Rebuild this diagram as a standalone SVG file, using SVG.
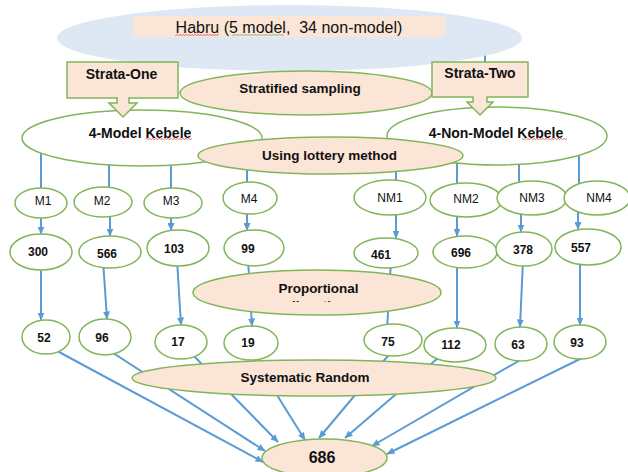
<svg xmlns="http://www.w3.org/2000/svg" width="628" height="472" viewBox="0 0 628 472">
<style>
.n{fill:#ffffff;stroke:#82b55a;stroke-width:1.5}
.p{fill:#fbe5d6;stroke:#82b55a;stroke-width:1.5}
.c{stroke:#5b9bd5;stroke-width:2;fill:none}
.a{marker-end:url(#ah)}
.t{font-family:"Liberation Sans",Arial,sans-serif;text-anchor:middle;fill:#111111}
.b{font-weight:bold;font-size:13.5px}
.k{font-weight:bold;font-size:14px}
.s{font-size:12px}
.nb{font-weight:bold;font-size:12px}
.wr{fill:url(#wavyR)}
.wg{fill:url(#wavyG)}
</style>
<defs>
<marker id="ah" viewBox="0 0 8 7" refX="7.5" refY="3.5" markerWidth="8" markerHeight="7" markerUnits="userSpaceOnUse" orient="auto">
<path d="M0,0 L8,3.5 L0,7 Z" fill="#5b9bd5"/>
</marker>
<pattern id="wavyR" width="3" height="2" patternUnits="userSpaceOnUse">
<path d="M0,0.4 L1.5,1.6 L3,0.4" fill="none" stroke="#e0302c" stroke-width="0.7"/>
</pattern>
<pattern id="wavyG" width="3" height="2" patternUnits="userSpaceOnUse">
<path d="M0,0.4 L1.5,1.6 L3,0.4" fill="none" stroke="#4aa05a" stroke-width="0.7"/>
</pattern>
<clipPath id="clipAlloc"><rect x="250" y="290" width="140" height="12"/></clipPath>
</defs>

<g id="connectors">
<line class="c" x1="485" y1="45" x2="485" y2="62"/>
<line class="c" x1="41" y1="140" x2="41" y2="200"/>
<line class="c" x1="109" y1="140" x2="109" y2="200"/>
<line class="c" x1="171" y1="140" x2="171" y2="200"/>
<line class="c" x1="247" y1="140" x2="247" y2="195"/>
<line class="c" x1="396" y1="140" x2="396" y2="195"/>
<line class="c" x1="457" y1="140" x2="457" y2="195"/>
<line class="c" x1="519" y1="140" x2="519" y2="195"/>
<line class="c" x1="579" y1="140" x2="579" y2="195"/>

<line class="c a" x1="41" y1="210" x2="41" y2="234"/>
<line class="c a" x1="110" y1="210" x2="110" y2="236"/>
<line class="c a" x1="171" y1="210" x2="171" y2="230.5"/>
<line class="c a" x1="247" y1="205" x2="247" y2="230.5"/>
<line class="c a" x1="396" y1="205" x2="396" y2="238"/>
<line class="c a" x1="457" y1="205" x2="457" y2="236"/>
<line class="c a" x1="521" y1="205" x2="521" y2="232"/>
<line class="c a" x1="578" y1="205" x2="578" y2="229.5"/>

<line class="c a" x1="41" y1="260" x2="41" y2="320"/>
<line class="c a" x1="103" y1="260" x2="107" y2="319"/>
<line class="c a" x1="177" y1="260" x2="181" y2="325"/>
<line class="c a" x1="248" y1="260" x2="252" y2="326"/>
<line class="c" x1="391" y1="260" x2="387" y2="330"/>
<line class="c a" x1="457" y1="260" x2="457" y2="328"/>
<line class="c a" x1="523" y1="260" x2="520" y2="327"/>
<line class="c a" x1="580" y1="260" x2="580" y2="325"/>

<line class="c a" x1="46" y1="345" x2="263" y2="462"/>
<line class="c a" x1="110" y1="351" x2="265" y2="451"/>
<line class="c a" x1="190" y1="352" x2="278" y2="442"/>
<line class="c a" x1="252" y1="355" x2="305" y2="440"/>
<line class="c a" x1="392" y1="351" x2="319" y2="438"/>
<line class="c a" x1="438" y1="358" x2="345" y2="438"/>
<line class="c a" x1="522" y1="359" x2="372" y2="446"/>
<line class="c a" x1="582" y1="358" x2="387" y2="454"/>
</g>

<g id="habru">
<ellipse cx="289.5" cy="38" rx="232.5" ry="33" fill="#dde8f4"/>
<rect x="133" y="16" width="312" height="21" fill="#fbe5d6"/>
<text class="t" x="289" y="32.5" font-size="16" xml:space="preserve">Habru (5 model,  34 non-model)</text>
<rect class="wr" x="175" y="34" width="44" height="2"/>
<rect class="wg" x="232" y="34" width="52" height="2"/>
</g>

<g id="stratified">
<ellipse class="p" cx="306" cy="93" rx="126" ry="22"/>
<text class="t b" x="300" y="93">Stratified sampling</text>
</g>

<g id="model-kebele">
<ellipse class="n" cx="142" cy="138" rx="120" ry="28"/>
<text class="t k" x="140" y="137.5">4-Model Kebele</text>
<rect class="wr" x="146" y="138" width="46" height="2"/>
</g>

<g id="nonmodel-kebele">
<ellipse class="n" cx="497" cy="136" rx="110" ry="29"/>
<text class="t k" x="496" y="137.5">4-Non-Model Kebele</text>
<rect class="wr" x="522" y="138" width="45" height="2"/>
</g>

<g id="strata-one">
<path class="p" d="M67,62 H178 V98 H129 V103 H137 L123,117 L109,103 H117 V98 H67 Z"/>
<text class="t k" x="121.5" y="78.5">Strata-One</text>
</g>

<g id="strata-two">
<path class="p" d="M432,62 H528 V97 H487 V102 H493 L480,115 L467,102 H473 V97 H432 Z"/>
<text class="t k" x="480" y="78">Strata-Two</text>
</g>

<g id="lottery">
<ellipse class="p" cx="330.5" cy="155.5" rx="132.5" ry="18.5"/>
<text class="t b" x="329.5" y="160">Using lottery method</text>
</g>

<g id="m1"><ellipse class="n" cx="41" cy="203" rx="26" ry="15"/><text class="t s" x="43" y="204.5">M1</text></g>
<g id="m2"><ellipse class="n" cx="103" cy="202" rx="29" ry="15"/><text class="t s" x="102" y="204.5">M2</text></g>
<g id="m3"><ellipse class="n" cx="173" cy="203" rx="29" ry="15"/><text class="t s" x="171" y="204.5">M3</text></g>
<g id="m4"><ellipse class="n" cx="250" cy="198" rx="27" ry="16"/><text class="t s" x="249" y="202.5">M4</text></g>
<g id="nm1"><ellipse class="n" cx="390" cy="197.5" rx="36" ry="17.5"/><text class="t s" x="390" y="201.5">NM1</text></g>
<g id="nm2"><ellipse class="n" cx="466" cy="200" rx="36" ry="17"/><text class="t s" x="466" y="202.5">NM2</text></g>
<g id="nm3"><ellipse class="n" cx="532" cy="198" rx="35" ry="17"/><text class="t s" x="532" y="201.5">NM3</text></g>
<g id="nm4"><ellipse class="n" cx="597" cy="198" rx="33" ry="17"/><text class="t s" x="599" y="201.5">NM4</text></g>

<g id="n300"><ellipse class="n" cx="41" cy="252" rx="31" ry="18"/><text class="t nb" x="38" y="255.5">300</text></g>
<g id="n566"><ellipse class="n" cx="110" cy="252" rx="31" ry="16"/><text class="t nb" x="107" y="257.5">566</text></g>
<g id="n103"><ellipse class="n" cx="178" cy="248" rx="31" ry="18"/><text class="t nb" x="174" y="252.5">103</text></g>
<g id="n99"><ellipse class="n" cx="254" cy="248" rx="30" ry="18"/><text class="t nb" x="248" y="252.5">99</text></g>
<g id="n461"><ellipse class="n" cx="386" cy="253" rx="32" ry="15"/><text class="t nb" x="381" y="258.5">461</text></g>
<g id="n696"><ellipse class="n" cx="465" cy="252" rx="32" ry="16"/><text class="t nb" x="461" y="256.5">696</text></g>
<g id="n378"><ellipse class="n" cx="524" cy="249" rx="28" ry="17"/><text class="t nb" x="523" y="253.5">378</text></g>
<g id="n557"><ellipse class="n" cx="588" cy="247" rx="33" ry="18"/><text class="t nb" x="581" y="251.5">557</text></g>

<g id="proportional">
<ellipse class="p" cx="317" cy="292.5" rx="124" ry="22.5"/>
<text class="t b" x="318.5" y="293">Proportional</text>
<text class="t b" x="316" y="310" clip-path="url(#clipAlloc)">allocation</text>
</g>

<g id="c52"><ellipse class="n" cx="46" cy="337" rx="24" ry="17"/><text class="t nb" x="44" y="341.5">52</text></g>
<g id="c96"><ellipse class="n" cx="105" cy="337" rx="26" ry="18"/><text class="t nb" x="102" y="341.5">96</text></g>
<g id="c17"><ellipse class="n" cx="181" cy="342" rx="26" ry="17"/><text class="t nb" x="178" y="345.5">17</text></g>
<g id="c19"><ellipse class="n" cx="251" cy="343" rx="27" ry="17"/><text class="t nb" x="248" y="346.5">19</text></g>
<g id="c75"><ellipse class="n" cx="393" cy="340" rx="29" ry="16"/><text class="t nb" x="388" y="345.5">75</text></g>
<g id="c112"><ellipse class="n" cx="455" cy="345" rx="31" ry="17"/><text class="t nb" x="451" y="348.5">112</text></g>
<g id="c63"><ellipse class="n" cx="521" cy="344" rx="26" ry="17"/><text class="t nb" x="518" y="348.5">63</text></g>
<g id="c93"><ellipse class="n" cx="580" cy="342" rx="26" ry="17"/><text class="t nb" x="577" y="346.5">93</text></g>

<g id="systematic">
<ellipse class="p" cx="314" cy="378" rx="182" ry="18"/>
<text class="t b" x="305" y="382">Systematic Random</text>
</g>

<g id="total">
<ellipse class="p" cx="324.5" cy="458" rx="62.5" ry="19"/>
<text class="t" x="322" y="463" font-size="16" font-weight="bold">686</text>
</g>
</svg>
